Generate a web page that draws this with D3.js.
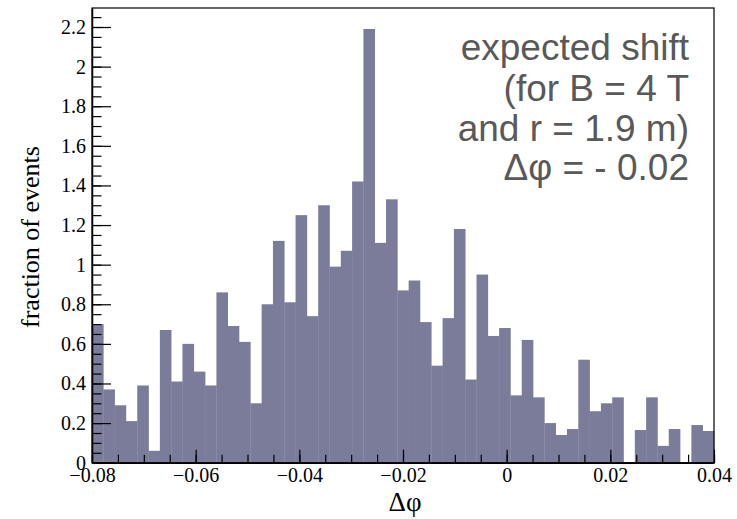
<!DOCTYPE html>
<html>
<head>
<meta charset="utf-8">
<script src="https://cdn.jsdelivr.net/npm/d3@7"></script>
<style>
  html, body { margin: 0; padding: 0; background: #fff; }
  svg { display: block; }
</style>
</head>
<body>
<script>
// ---- data ----
const binRange = [-0.08, 0.04];
const binCount = 55;
const values = [
  0.70, 0.37, 0.29, 0.21, 0.39, 0.06, 0.67, 0.41, 0.60, 0.46,
  0.39, 0.86, 0.69, 0.61, 0.30, 0.80, 1.12, 0.81, 1.25, 0.74,
  1.30, 0.99, 1.07, 1.42, 2.19, 1.11, 1.33, 0.87, 0.92, 0.71,
  0.49, 0.73, 1.18, 0.42, 0.95, 0.64, 0.68, 0.34, 0.62, 0.33,
  0.20, 0.14, 0.17, 0.52, 0.26, 0.30, 0.33, 0.00, 0.165, 0.33,
  0.085, 0.17, 0.00, 0.19, 0.16
];
const xTicks = [-0.08, -0.06, -0.04, -0.02, 0, 0.02, 0.04];
const yTicks = [0, 0.2, 0.4, 0.6, 0.8, 1, 1.2, 1.4, 1.6, 1.8, 2, 2.2];
const yMax = 2.296;
const annotation = ["expected shift", "(for B = 4 T", "and r = 1.9 m)", "\u0394\u03C6 = - 0.02"];
const xTitle = "\u0394\u03C6";
const yTitle = "fraction of events";

(function () {
// ---- layout ----
const W = 737, H = 519;
const pL = 92, pR = 714, pT = 8, pB = 462.7;

const svg = d3.select("body").append("svg").attr("width", W).attr("height", H);

const x = d3.scaleLinear().domain(binRange).range([pL, pR]);
const y = d3.scaleLinear().domain([0, yMax]).range([pB, pT]);

const bw = (binRange[1] - binRange[0]) / binCount;
const bins = values.map((v, i) => ({ x0: binRange[0] + i * bw, x1: binRange[0] + (i + 1) * bw, v }));

svg.append("g").selectAll("rect").data(bins).join("rect")
  .attr("x", d => x(d.x0))
  .attr("width", d => x(d.x1) - x(d.x0) + 0.3)
  .attr("y", d => y(d.v))
  .attr("height", d => pB - y(d.v))
  .attr("fill", "#7b7b9a");

// frame
svg.append("rect").attr("x", pL).attr("y", pT)
  .attr("width", pR - pL).attr("height", pB - pT)
  .attr("fill", "none").attr("stroke", "#000").attr("stroke-width", 1.2);

const minus = s => s.replace("-", "\u2212");
const serif = "'Liberation Serif', 'Times New Roman', serif";

// x axis
const xMinor = d3.range(binRange[0], binRange[1] + 1e-9, 0.005);
const gx = svg.append("g").attr("transform", `translate(0,${pB})`);
gx.call(d3.axisBottom(x).tickValues(xMinor).tickSize(0).tickFormat(""))
  .call(g => g.select(".domain").remove());
gx.selectAll(".tick line").attr("y2", -8).attr("stroke", "#000").attr("stroke-width", 1.2);
const gx2 = svg.append("g").attr("transform", `translate(0,${pB})`);
gx2.call(d3.axisBottom(x).tickValues(xTicks).tickSize(0).tickPadding(5)
      .tickFormat(d => d === 0 ? "0" : minus(d3.format(".2f")(d))))
  .call(g => g.select(".domain").attr("stroke", "#000").attr("stroke-width", 1.5));
gx2.selectAll(".tick line").attr("y2", -13).attr("stroke", "#000").attr("stroke-width", 1.2);
gx2.selectAll(".tick text").attr("font-family", serif)
  .attr("font-size", 20).attr("fill", "#000");

// y axis
const yMinor = d3.range(0, yMax, 0.05);
const gy = svg.append("g").attr("transform", `translate(${pL},0)`);
gy.call(d3.axisLeft(y).tickValues(yMinor).tickSize(0).tickFormat(""))
  .call(g => g.select(".domain").remove());
gy.selectAll(".tick line").attr("x2", 9.5).attr("stroke", "#000").attr("stroke-width", 1.2);
const gy2 = svg.append("g").attr("transform", `translate(${pL},0)`);
gy2.call(d3.axisLeft(y).tickValues(yTicks).tickSize(0).tickPadding(6)
      .tickFormat(d => String(+d.toFixed(1))))
  .call(g => g.select(".domain").attr("stroke", "#000").attr("stroke-width", 1.5));
gy2.selectAll(".tick line").attr("x2", 19).attr("stroke", "#000").attr("stroke-width", 1.2);
gy2.selectAll(".tick text").attr("font-family", serif)
  .attr("font-size", 20).attr("fill", "#000");

// titles
svg.append("text").attr("x", 405).attr("y", 511).attr("text-anchor", "middle")
  .attr("font-family", serif).attr("font-size", 27)
  .text(xTitle);
svg.append("text").attr("transform", "translate(39,237) rotate(-90)").attr("text-anchor", "middle")
  .attr("font-family", serif).attr("font-size", 26)
  .text(yTitle);

// annotation
const baselines = [60, 101, 141, 180];
svg.append("g").selectAll("text").data(annotation).join("text")
  .attr("x", 689).attr("y", (d, i) => baselines[i]).attr("text-anchor", "end")
  .attr("font-family", "'Liberation Sans', Arial, sans-serif").attr("font-size", 37)
  .attr("fill", "#595959").text(d => d);
})();
</script>
</body>
</html>
